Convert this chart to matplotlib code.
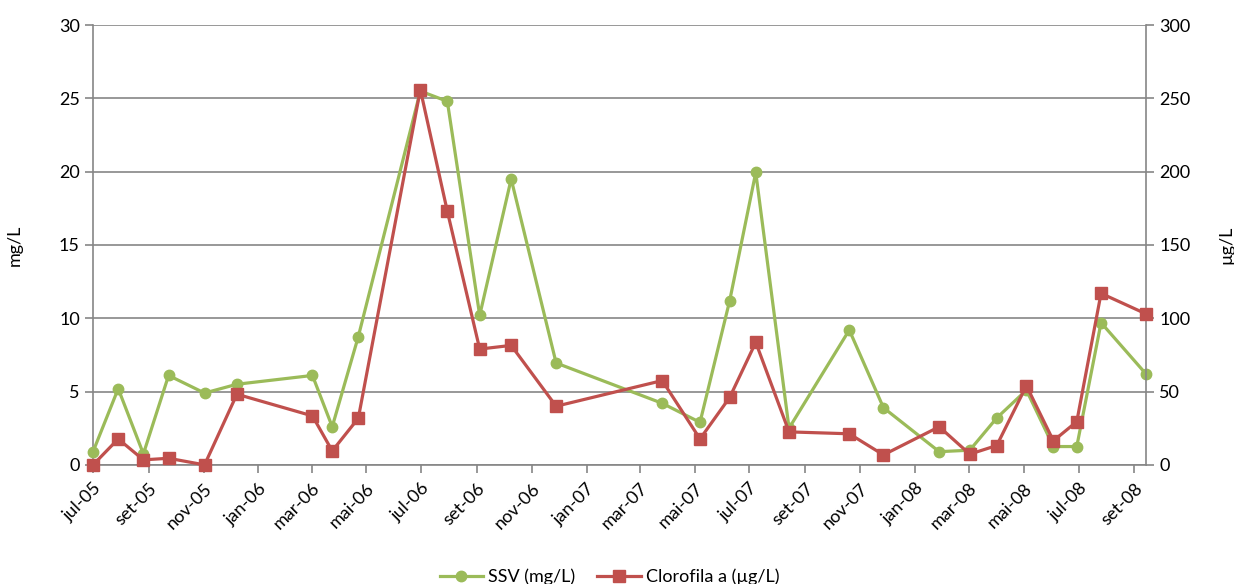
import numpy as np
import pandas as pd
import matplotlib
matplotlib.use('Agg')
import matplotlib.pyplot as plt
import matplotlib.dates as mdates
from matplotlib.ticker import FuncFormatter, MultipleLocator

dates = ['2005-07-01', '2005-07-29', '2005-08-26', '2005-09-23', '2005-11-02',
         '2005-12-08', '2006-03-02', '2006-03-24', '2006-04-22', '2006-06-30',
         '2006-07-30', '2006-09-04', '2006-10-09', '2006-11-28', '2007-03-26',
         '2007-05-07', '2007-06-09', '2007-07-08', '2007-08-14', '2007-10-20',
         '2007-11-27', '2008-01-28', '2008-03-02', '2008-04-01', '2008-05-04',
         '2008-06-03', '2008-06-29', '2008-07-26', '2008-09-14']
ssv = [0.9, 5.2, 0.75, 6.1, 4.9, 5.5, 6.1, 2.6, 8.75, 25.5,
       24.8, 10.2, 19.5, 6.95, 4.2, 2.9, 11.2, 19.95, 2.5, 9.2,
       3.9, 0.9, 1.0, 3.2, 5.1, 1.25, 1.25, 9.7, 6.2]
clorofila = [0, 17.7, 3.4, 4.5, 0, 48.2, 33.4, 9.5, 31.8, 256,
             173, 79, 81.5, 40, 57.5, 17.7, 46, 83.6, 22.5, 21.2,
             6.8, 26, 7.3, 13.2, 54, 16.4, 29.5, 117, 103]

meses = {1: 'jan', 2: 'fev', 3: 'mar', 4: 'abr', 5: 'mai', 6: 'jun',
         7: 'jul', 8: 'ago', 9: 'set', 10: 'out', 11: 'nov', 12: 'dez'}

green = '#9BBB59'
red = '#C0504D'
grey = '#868686'

plt.rcParams.update({'font.family': ['Lato', 'DejaVu Sans'], 'font.size': 13})

x = pd.to_datetime(dates)

fig = plt.figure(figsize=(12.34, 5.84), dpi=100)
ax = fig.add_axes([0.0754, 0.204, 0.8533, 0.753])
ax2 = ax.twinx()

l1, = ax.plot(x, ssv, color=green, lw=2.3, marker='o', ms=7.5, label='SSV (mg/L)',
              zorder=3, clip_on=False)
l2, = ax2.plot(x, clorofila, color=red, lw=2.3, marker='s', ms=8, label='Clorofila a (µg/L)',
               zorder=3, clip_on=False)

ax.set_ylim(0, 30)
ax2.set_ylim(0, 300)
ax.yaxis.set_major_locator(MultipleLocator(5))
ax2.yaxis.set_major_locator(MultipleLocator(50))
ax.set_xlim(x[0], x[-1])

ax.xaxis.set_major_locator(mdates.MonthLocator(bymonth=[1, 3, 5, 7, 9, 11]))
ax.xaxis.set_major_formatter(FuncFormatter(
    lambda v, pos: f"{meses[mdates.num2date(v).month]}-{mdates.num2date(v).strftime('%y')}"))
plt.setp(ax.get_xticklabels(), rotation=45, ha='right', rotation_mode='anchor')

ax.grid(axis='y', color=grey, lw=1.2)
ax.set_axisbelow(True)
for a in (ax, ax2):
    for s in a.spines.values():
        s.set_visible(False)
    a.tick_params(colors=grey, labelcolor='black', length=6, width=1.2)
ax.spines['left'].set_visible(True)
ax.spines['left'].set_color(grey)
ax.spines['left'].set_linewidth(1.2)
ax.spines['bottom'].set_visible(True)
ax.spines['bottom'].set_color(grey)
ax.spines['bottom'].set_linewidth(1.2)
ax2.spines['right'].set_visible(True)
ax2.spines['right'].set_color(grey)
ax2.spines['right'].set_linewidth(1.2)
ax.tick_params(axis='x', pad=5)

ax.set_ylabel('mg/L', labelpad=26)
ax2.set_ylabel('µg/L', labelpad=20)

fig.legend(handles=[l1, l2], loc='center', bbox_to_anchor=(0.494, 0.012), ncol=2,
           frameon=False, handlelength=2.4, columnspacing=1.2, handletextpad=0.3)

fig.savefig('out.png', dpi=100)
